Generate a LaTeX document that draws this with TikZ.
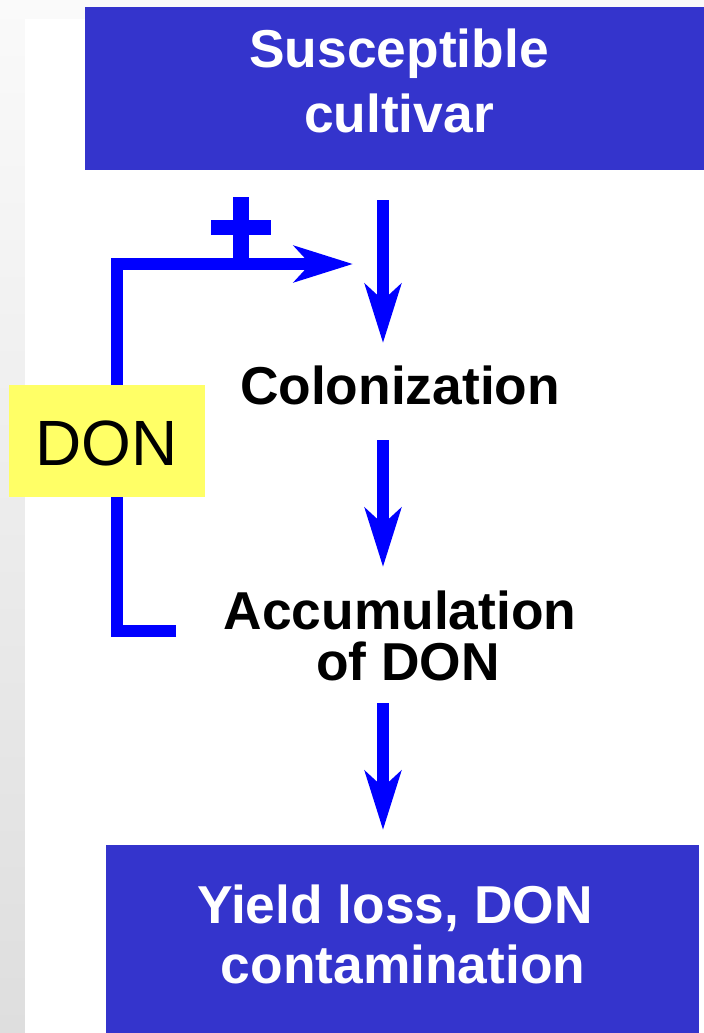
\documentclass[tikz,border=0pt]{standalone}
\usepackage{fontspec}
\setmainfont{Liberation Sans}
\usetikzlibrary{arrows.meta}
\definecolor{boxblue}{RGB}{52,52,204}
\definecolor{arrblue}{RGB}{0,0,255}
\definecolor{donyellow}{RGB}{255,255,102}
\definecolor{bgtop}{RGB}{250,250,250}
\definecolor{bgbot}{RGB}{222,222,222}
\tikzset{
  bigbox/.style={fill=boxblue, draw=none},
  boxtext/.style={text=white, font=\fontsize{40}{48}\selectfont\bfseries, anchor=base, inner sep=0pt},
  steptext/.style={text=black, font=\fontsize{40}{48}\selectfont\bfseries, anchor=base, inner sep=0pt},
  flowarrow/.style={draw=arrblue, line width=9pt, -{Stealth[length=44pt, width=27pt, inset=12pt]}},
  fbline/.style={draw=arrblue, line width=9pt, line join=miter, line cap=butt},
}
\begin{document}
\begin{tikzpicture}[x=0.75pt, y=-0.75pt]
\useasboundingbox (0,0) rectangle (704,1033);
% background
\shade[top color=bgtop, bottom color=bgbot] (0,0) rectangle (704,1033);
\fill[white] (25,19) rectangle (704,1033);
% boxes
\fill[bigbox] (85,7) rectangle (704,170);
\fill[bigbox] (106,845) rectangle (699,1033);
\node[boxtext] (sus1) at (399,67) {Susceptible};
\node[boxtext] (sus2) at (399,132) {cultivar};
\node[boxtext] (yld1) at (395,923) {Yield loss, DON};
\node[boxtext] (yld2) at (403,983) {contamination};
% step texts
\node[steptext] (col) at (400,404) {Colonization};
\node[steptext] (acc1) at (400,629) {Accumulation};
\node[steptext] (acc2) at (408,680) {of DON};
% main arrows
\coordinate (a1s) at (383,200); \coordinate (a1e) at (383,343);
\coordinate (a2s) at (383,440); \coordinate (a2e) at (383,567);
\coordinate (a3s) at (383,703); \coordinate (a3e) at (383,830);
\draw[flowarrow] (a1s) -- (a1e);
\draw[flowarrow] (a2s) -- (a2e);
\draw[flowarrow] (a3s) -- (a3e);
% feedback loop
\coordinate (fbstart) at (176,631);
\coordinate (fbbl) at (117,631);
\coordinate (fbtl) at (117,264);
\coordinate (fbend) at (353,264);
\draw[fbline] (fbstart) -- (fbbl) -- (fbtl) -- ([xshift=-30pt]fbend);
\draw[flowarrow] ([xshift=-40pt]fbend) -- (fbend);
% plus sign
\fill[arrblue] (233,197) rectangle (249,259);
\fill[arrblue] (211,220) rectangle (271,235);
% DON box
\fill[donyellow] (9,385) rectangle (205,497);
\node[text=black, font=\fontsize{48}{56}\selectfont, anchor=base, inner sep=0pt] (don) at (106.5,465) {DON};
\end{tikzpicture}
\end{document}
